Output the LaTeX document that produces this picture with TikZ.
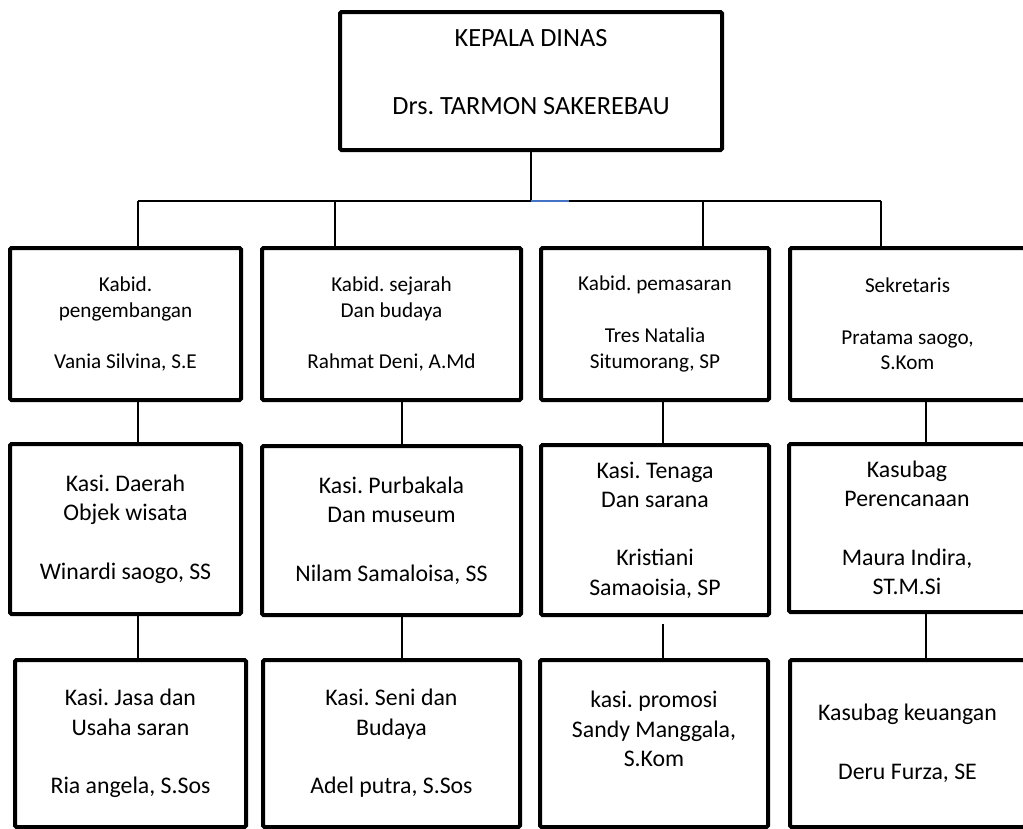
\documentclass[tikz,border=0pt]{standalone}
\usepackage{fontspec}
\setmainfont{Carlito}
\definecolor{wordblue}{RGB}{68,114,196}
\frenchspacing
\begin{document}
\begin{tikzpicture}[x=1pt,y=-1pt,
  box/.style={draw, line width=4pt, rounded corners=1.5pt, inner sep=0pt, align=center},
  lvlA/.style={box, font=\fontsize{21.2}{25.7}\selectfont},
  lvlB/.style={box, font=\fontsize{23.8}{29.3}\selectfont},
  link/.style={line width=1.4pt},
  bluelink/.style={line width=1.4pt, draw=wordblue}]
\useasboundingbox (0,0) rectangle (1023,828);
\clip (0,0) rectangle (1023,828);

% top box
\node[box, minimum width=382pt, minimum height=138pt] (kd) at (531,81) {};
\node[font=\fontsize{26.3}{34}\selectfont, align=center, inner sep=0pt] (kdt) at (531,72)
  {KEPALA DINAS\\\mbox{}\\Drs. TARMON SAKEREBAU};

% level 1
\node[lvlA, minimum width=231pt, minimum height=152pt] (k1) at (125.5,324)
  {Kabid.\\pengembangan\\\mbox{}\\Vania Silvina, S.E};
\node[lvlA, minimum width=259pt, minimum height=152pt] (k2) at (391.5,324)
  {Kabid. sejarah\\Dan budaya\\\mbox{}\\Rahmat Deni, A.Md};
\node[lvlA, minimum width=228pt, minimum height=152pt] (k3) at (655,324)
  {Kabid. pemasaran\\\mbox{}\\Tres Natalia\\Situmorang, SP};
\node[lvlA, minimum width=235pt, minimum height=152pt] (k4) at (907.5,324)
  {Sekretaris\\\mbox{}\\Pratama saogo,\\S.Kom};

% level 2
\node[lvlB, minimum width=231pt, minimum height=170pt] (s1) at (125.5,529)
  {Kasi. Daerah\\Objek wisata\\\mbox{}\\Winardi saogo, SS};
\node[lvlB, minimum width=259pt, minimum height=169pt] (s2) at (391.5,530.5)
  {Kasi. Purbakala\\Dan museum\\\mbox{}\\Nilam Samaloisa, SS};
\node[lvlB, minimum width=228pt, minimum height=170pt] (s3) at (655,530)
  {Kasi. Tenaga\\Dan sarana\\\mbox{}\\Kristiani\\Samaoisia, SP};
\node[lvlB, minimum width=236pt, minimum height=168pt] (s4) at (907,528)
  {Kasubag\\Perencanaan\\\mbox{}\\Maura Indira,\\ST.M.Si};

% level 3
\node[lvlB, minimum width=231pt, minimum height=167pt] (t1) at (130.5,743.5)
  {Kasi. Jasa dan\\Usaha saran\\\mbox{}\\Ria angela, S.Sos};
\node[lvlB, minimum width=257pt, minimum height=167pt] (t2) at (391.5,743.5)
  {Kasi. Seni dan\\Budaya\\\mbox{}\\Adel putra, S.Sos};
\node[lvlB, minimum width=228pt, minimum height=167pt] (t3) at (654,743.5)
  {kasi. promosi\\Sandy Manggala,\\S.Kom\\\mbox{}};
\node[lvlB, minimum width=235pt, minimum height=167pt] (t4) at (907.5,743.5)
  {Kasubag keuangan\\\mbox{}\\Deru Furza, SE};

% connector geometry
\coordinate (bl) at (138,201);
\coordinate (br) at (881,201);
\coordinate (bb) at (569,201);
\coordinate (d2) at (335,201);
\coordinate (d3) at (703,201);
\coordinate (v1) at (138,0);
\coordinate (v2) at (402,0);
\coordinate (v3) at (663,0);
\coordinate (v4) at (926,0);
\coordinate (g3) at (663,624);

% top stem and bar
\draw[link] (kd.south) -- (kd.south |- bl);
\draw[link] (bl) -- (br);
\draw[bluelink] (kd.south |- bl) -- (bb);

% drops to level 1
\draw[link] (bl) -- (bl |- k1.north);
\draw[link] (d2) -- (d2 |- k2.north);
\draw[link] (d3) -- (d3 |- k3.north);
\draw[link] (br) -- (br |- k4.north);

% level 1 -> level 2
\draw[link] (k1.south -| v1) -- (s1.north -| v1);
\draw[link] (k2.south -| v2) -- (s2.north -| v2);
\draw[link] (k3.south -| v3) -- (s3.north -| v3);
\draw[link] (k4.south -| v4) -- (s4.north -| v4);

% level 2 -> level 3
\draw[link] (s1.south -| v1) -- (t1.north -| v1);
\draw[link] (s2.south -| v2) -- (t2.north -| v2);
\draw[link] (g3) -- (t3.north -| v3);
\draw[link] (s4.south -| v4) -- (t4.north -| v4);
\end{tikzpicture}
\end{document}
